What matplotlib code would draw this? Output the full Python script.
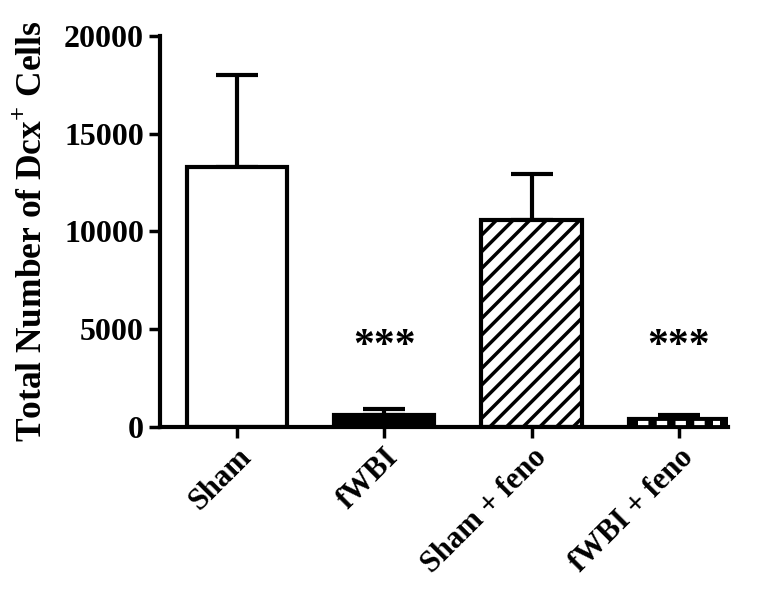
import matplotlib.pyplot as plt

groups = ["Sham", "fWBI", "Sham + feno", "fWBI + feno"]
means = [13300, 600, 10600, 420]
sems = [4700, 300, 2350, 200]
stars = ["", "***", "", "***"]

plt.rcParams["font.family"] = "Liberation Serif"
plt.rcParams["font.weight"] = "bold"
plt.rcParams["mathtext.fontset"] = "custom"
plt.rcParams["mathtext.bf"] = "Liberation Serif:bold"
plt.rcParams["hatch.linewidth"] = 2.5

fig = plt.figure(figsize=(7.62, 5.96), dpi=100)
ax = fig.add_axes([0.21, 0.284, 0.745, 0.656])

x = range(len(groups))
faces = ["white", "black", "white", "black"]
hatches = [None, None, "//", None]
ax.bar(x, means, width=0.68, color=faces, edgecolor="black",
       linewidth=3, hatch=hatches, zorder=2)
ax.errorbar(x, means, yerr=[[0] * 4, sems], fmt="none", ecolor="black",
            elinewidth=3, capsize=15, capthick=3, zorder=1)
# white dashes inside the last bar
ax.plot([2.72, 3.28], [means[3] * 0.5] * 2, color="white", lw=3,
        dashes=(2.5, 2), zorder=3)

for i, s in enumerate(stars):
    if s:
        ax.text(i, 4100, s, ha="center", va="center",
                fontsize=30, fontweight="bold")

ax.set_xlim(-0.52, 3.33)
ax.set_ylim(0, 20000)
ax.set_yticks([0, 5000, 10000, 15000, 20000])
ax.set_xticks(list(x))
ax.set_xticklabels(groups, rotation=45, ha="right", rotation_mode="anchor",
                   fontsize=22, fontweight="bold")
ax.tick_params(axis="y", labelsize=23, width=2.5, length=8)
ax.tick_params(axis="x", width=2.5, length=8)
for lab in ax.get_yticklabels():
    lab.set_fontweight("bold")
ax.set_ylabel("Total Number of Dcx$^{\\mathbf{+}}$ Cells", fontsize=25.5,
              fontweight="bold", labelpad=10)
ax.spines["top"].set_visible(False)
ax.spines["right"].set_visible(False)
ax.spines["left"].set_linewidth(3)
ax.spines["bottom"].set_linewidth(3)

fig.savefig("out.png", dpi=100)
